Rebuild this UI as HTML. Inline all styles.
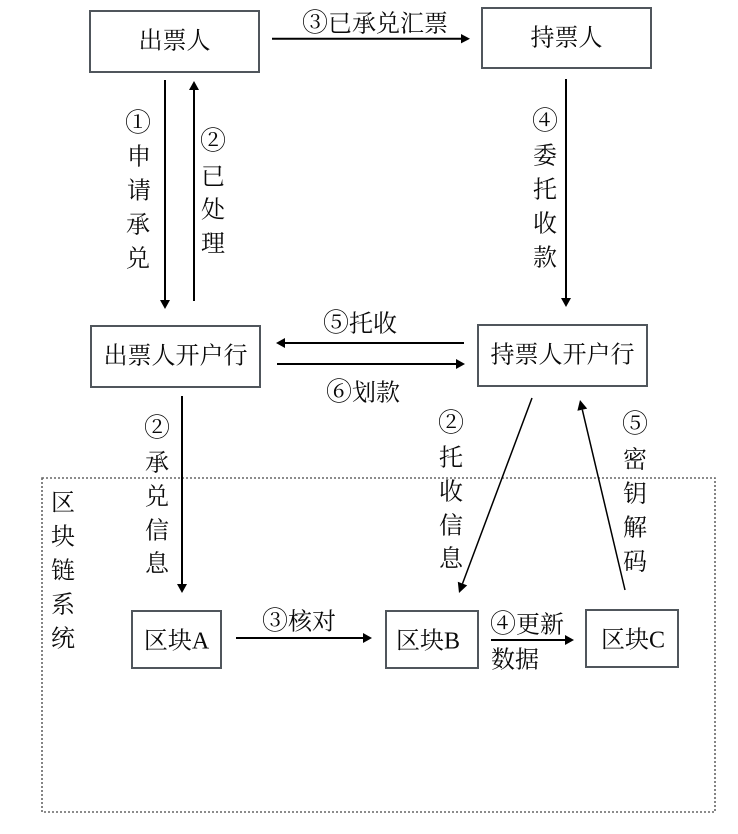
<!DOCTYPE html>
<html><head><meta charset="utf-8"><style>
html,body{margin:0;padding:0;background:#fff}
svg{display:block}
text{font-family:"Liberation Serif","Noto Serif CJK SC",serif;font-size:24px;fill:#0a0a0a;text-anchor:middle}
tspan.c{font-size:26px}
.b{fill:#fff;stroke:#50565c;stroke-width:2}
.l{stroke:#000;stroke-width:2;fill:none}
.h{fill:#000}
</style></head><body>
<svg width="738" height="834" viewBox="0 0 738 834" xmlns="http://www.w3.org/2000/svg">
<rect x="42" y="478" width="673" height="334" fill="none" stroke="#666" stroke-width="1.6" stroke-dasharray="2 2"/>
<rect class="b" x="90" y="11" width="169" height="61"/>
<rect class="b" x="482" y="8" width="169" height="60"/>
<rect class="b" x="91" y="326" width="169" height="61"/>
<rect class="b" x="478" y="325" width="169" height="61"/>
<rect class="b" x="132" y="611" width="89" height="57"/>
<rect class="b" x="386" y="611" width="92" height="57"/>
<rect class="b" x="586" y="610" width="92" height="57"/>
<path class="l" d="M165 80V300M194 301V88M272 38.700H462M566 79V299M464 343H284M277 364H457M182 396V585M236 638H364M491 640H566"/>
<path class="l" d="M532 398L462.500 583.600M625 590L582.300 409.700" style="stroke-width:1.500"/>
<path class="h" d="M160 300h10l-5 9zM189 90l5-9 5 9zM461 34l9 4.700-9 4.700zM561 298h10l-5 9zM285 338v10l-9-5zM456 359l9 5-9 5zM177 584h10l-5 9zM363 633l9 5-9 5zM565 635l9 5-9 5zM467.200 585.400L459 593 457.800 581.800zM587.200 408.600L580 400 577.400 410.800z"/>
<g transform="translate(0,0.700)">
<text x="174.500" y="48">出票人</text>
<text x="566.500" y="45">持票人</text>
<text x="175.500" y="363">出票人开户行</text>
<text x="562.500" y="362">持票人开户行</text>
<text x="176.500" y="648">区块A</text>
<text x="428" y="648">区块B</text>
<text x="633" y="647">区块C</text>
<text x="375" y="31"><tspan class="c">③</tspan>已承兑汇票</text>
<text x="360" y="331"><tspan class="c">⑤</tspan>托收</text>
<text x="363" y="400"><tspan class="c">⑥</tspan>划款</text>
<text x="299" y="629"><tspan class="c">③</tspan>核对</text>
<text x="527" y="632"><tspan class="c">④</tspan>更新</text>
<text x="515" y="667">数据</text>
<text x="138" y="131"><tspan class="c">①</tspan></text><text x="139" y="164">申</text><text x="139" y="198">请</text><text x="138" y="232">承</text><text x="138" y="266">兑</text>
<text x="213" y="149"><tspan class="c">②</tspan></text><text x="213" y="184">已</text><text x="213" y="217">处</text><text x="213" y="251">理</text>
<text x="545" y="129"><tspan class="c">④</tspan></text><text x="545" y="163">委</text><text x="545" y="197">托</text><text x="545" y="231">收</text><text x="545" y="265">款</text>
<text x="157" y="436"><tspan class="c">②</tspan></text><text x="157" y="470">承</text><text x="157" y="504">兑</text><text x="157" y="538">信</text><text x="157" y="571">息</text>
<text x="451" y="431"><tspan class="c">②</tspan></text><text x="451" y="465">托</text><text x="451" y="499">收</text><text x="451" y="533">信</text><text x="451" y="566">息</text>
<text x="635" y="432"><tspan class="c">⑤</tspan></text><text x="635" y="467">密</text><text x="635" y="501">钥</text><text x="635" y="535">解</text><text x="635" y="569">码</text>
<text x="63" y="510">区</text><text x="63" y="544">块</text><text x="63" y="578">链</text><text x="63" y="612">系</text><text x="63" y="646">统</text>
</g>
</svg>
</body></html>
